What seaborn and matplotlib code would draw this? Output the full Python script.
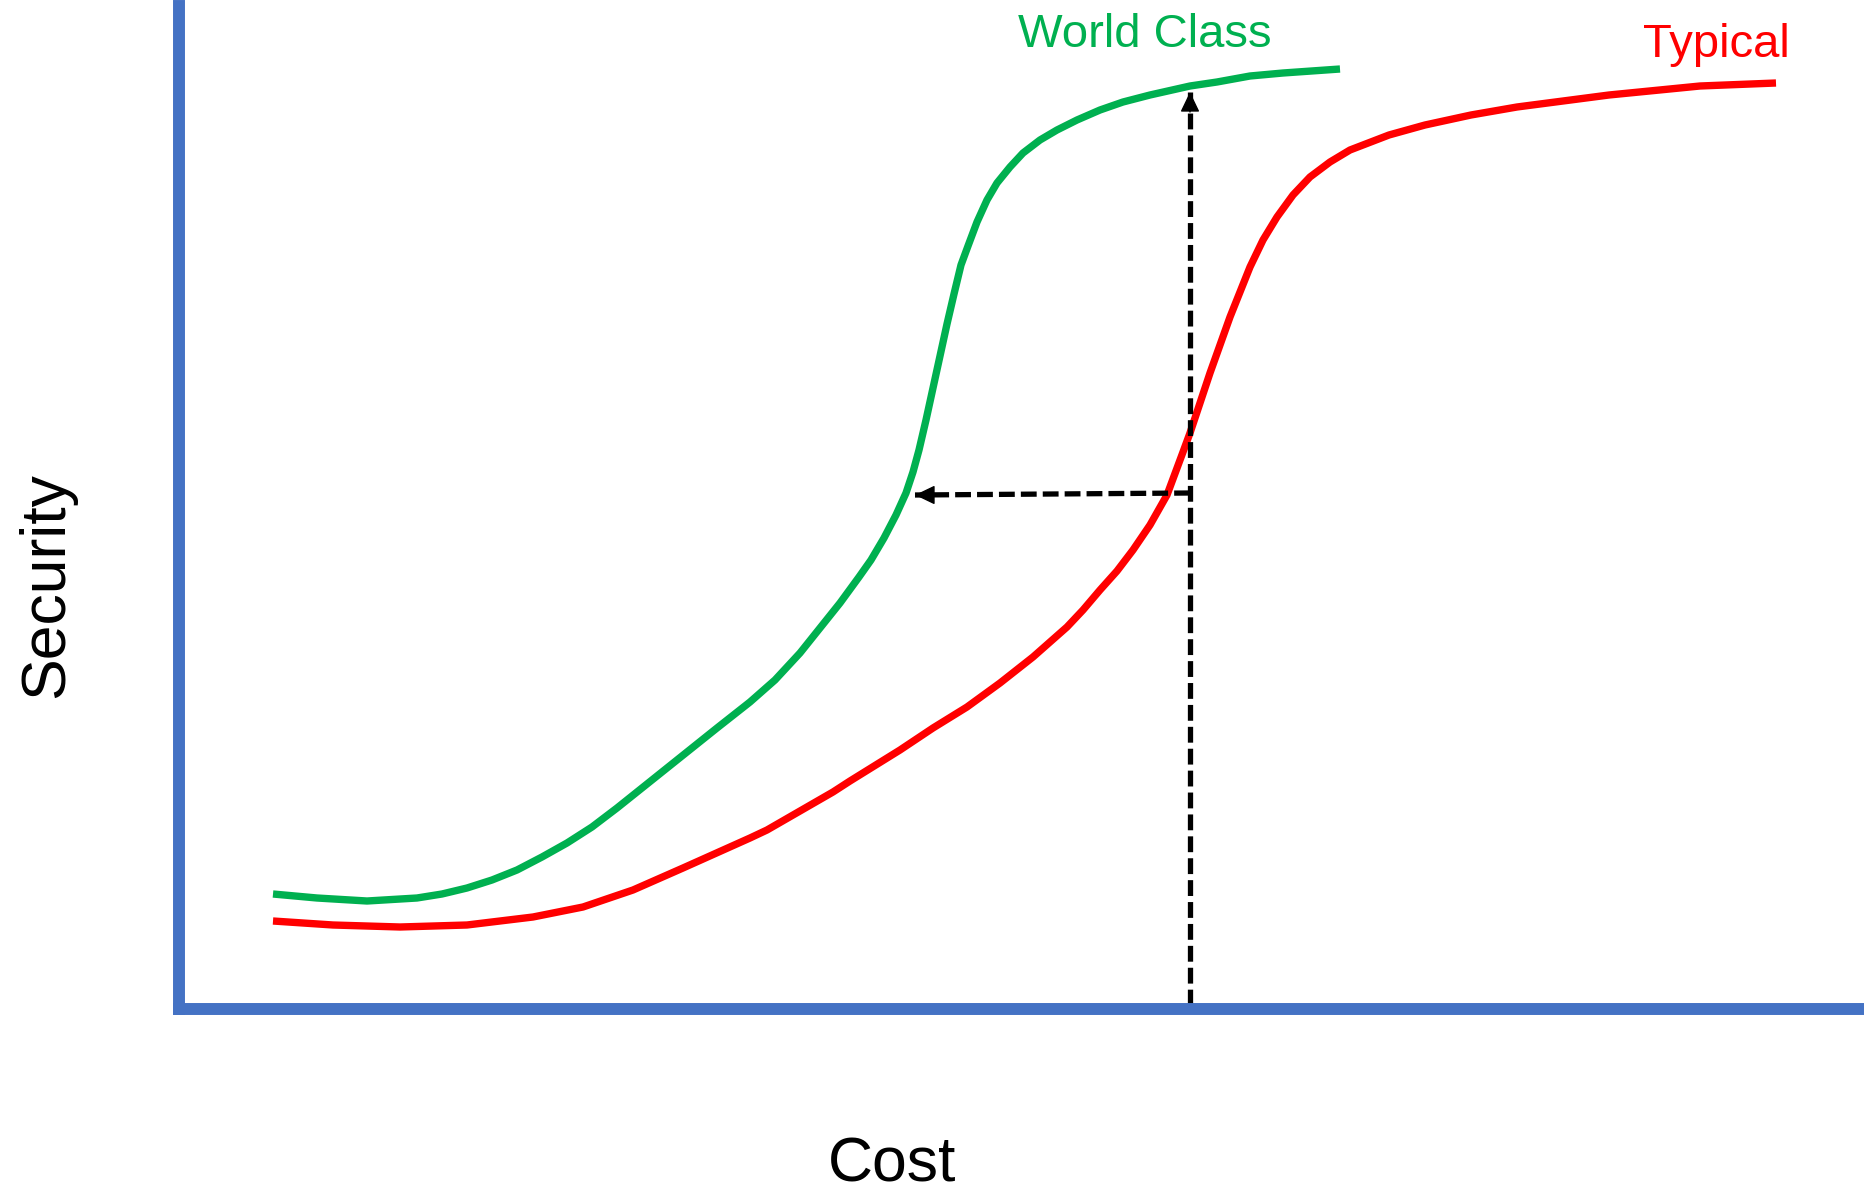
import matplotlib
matplotlib.use("Agg")
import matplotlib.pyplot as plt
import seaborn as sns

# values (cost on x, security on y, arbitrary units)
world_cost = [94, 138, 188, 238, 263, 288, 313, 338, 363, 388, 413, 438, 463, 488, 513,
              538, 571, 596, 621, 641, 661, 680, 692, 705, 717, 727, 734, 740, 747, 754,
              761, 768, 775, 782, 789, 798, 808, 818, 831, 844, 861, 878, 898, 921, 944,
              971, 1011, 1038, 1071, 1104, 1161]
world_security = [115, 111, 108, 111, 115, 121, 129, 139, 152, 166, 182, 201, 221, 241, 261,
                  281, 307, 329, 356, 381, 406, 432, 449, 471, 494, 516, 537, 559, 589, 621,
                  653, 685, 715, 744, 763, 787, 809, 826, 842, 856, 869, 879, 889, 899, 907,
                  914, 923, 927, 933, 936, 940]

typical_cost = [94, 154, 221, 288, 354, 404, 454, 504, 571, 588, 621, 654, 671, 721, 754,
                788, 821, 854, 888, 904, 921, 938, 954, 971, 988, 1004, 1011, 1031, 1051,
                1071, 1084, 1098, 1114, 1131, 1151, 1171, 1210, 1246, 1292, 1338, 1430,
                1521, 1597]
typical_security = [88, 84, 82, 84, 92, 102, 119, 141, 171, 179, 198, 217, 228, 259, 281,
                    302, 326, 352, 382, 399, 419, 438, 459, 484, 514, 557, 576, 636, 692,
                    742, 769, 792, 814, 832, 847, 859, 874, 884, 894, 902, 914, 923, 926]

# dashed guides: up from the typical cost, across to the world class curve
up_cost = [1011, 1011]
up_security = [4, 917]
across_cost = [1011, 736]
across_security = [516, 514]

GREEN = "#00B050"
RED = "#FF0000"
BLUE = "#4472C4"

sns.set_style("white")
plt.rcParams["font.family"] = ["Liberation Sans", "DejaVu Sans"]

W, H = 1865, 1195
fig = plt.figure(figsize=(W / 100, H / 100), dpi=100)
ax = fig.add_axes([179 / W, 1 - 1009 / H, (1864 - 179) / W, (1009 - 6) / H])

line_kw = dict(linewidth=5.3, sort=False, estimator=None, ax=ax,
               solid_capstyle="butt", solid_joinstyle="round")
sns.lineplot(x=world_cost, y=world_security, color=GREEN, **line_kw)
sns.lineplot(x=typical_cost, y=typical_security, color=RED, **line_kw)

# dashed lines, then filled heads at the ends
dash = (0, (3, 1.15))
ax.plot(up_cost, up_security, color="black", lw=3.8, linestyle=dash, dash_capstyle="butt")
ax.plot(across_cost, across_security, color="black", lw=3.8, linestyle=dash, dash_capstyle="butt")
head = dict(arrowstyle="-|>,head_length=1.25,head_width=0.6", color="black",
            lw=1, mutation_scale=10, shrinkA=0, shrinkB=0)
ax.annotate("", xy=(up_cost[1], up_security[1]), xytext=(up_cost[1], up_security[1] - 20),
            arrowprops=head)
ax.annotate("", xy=(across_cost[1], across_security[1]),
            xytext=(across_cost[1] + 20, across_security[1]), arrowprops=head)

ax.set_xlim(0, 1685)
ax.set_ylim(0, 1003)
ax.set(xlabel="", ylabel="", xticks=[], yticks=[])
for side in ["top", "right"]:
    ax.spines[side].set_visible(False)
for side in ["left", "bottom"]:
    ax.spines[side].set_color(BLUE)
    ax.spines[side].set_linewidth(8.6)

fig.text(1018 / W, 1 - 47 / H, "World Class", color=GREEN, fontsize=34,
         ha="left", va="baseline")
fig.text(1643 / W, 1 - 57 / H, "Typical", color=RED, fontsize=34,
         ha="left", va="baseline")
fig.text(892 / W, 1 - 1182 / H, "Cost", color="black", fontsize=45,
         ha="center", va="baseline")
fig.text(47 / W, 1 - 585 / H, "Security", color="black", fontsize=45,
         rotation=90, ha="center", va="center")

fig.savefig("out.png", dpi=100, facecolor="white")
